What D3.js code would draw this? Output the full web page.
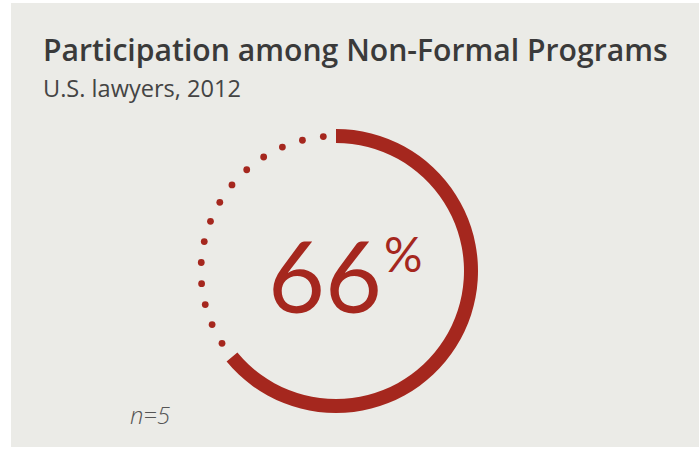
<!DOCTYPE html>
<html><head><meta charset="utf-8">
<script src="https://cdn.jsdelivr.net/npm/d3@7"></script>
<style>body{margin:0;background:#fff;overflow:hidden}</style>
</head><body>
<svg id="c" width="699" height="449"></svg>
<script>
const titleText = "Participation among Non-Formal Programs";
const subtitleText = "U.S. lawyers, 2012";
const shareValues = [66];
const pctDomain = [0, 100];
const dotStep = [2.5];
const noteText = "n=5";

const svg = d3.select("#c");
const red = "#a5271e";

svg.append("rect").attr("x", 11).attr("y", 3).attr("width", 688).attr("height", 444).attr("fill", "#ebebe7");

function fitText(sel, target) {
  const w = sel.node().getComputedTextLength();
  const fs = parseFloat(sel.attr("font-size"));
  sel.attr("font-size", fs * target / w);
}

const t = svg.append("text").attr("x", 43).attr("y", 61)
  .attr("font-family", "'Open Sans', sans-serif").attr("font-weight", 600)
  .attr("font-size", 28).attr("fill", "#3a3a3a").text(titleText);
fitText(t, 625);

const st = svg.append("text").attr("x", 43).attr("y", 97)
  .attr("font-family", "'Open Sans', sans-serif").attr("font-weight", 400)
  .attr("font-size", 22).attr("fill", "#444").text(subtitleText);
fitText(st, 198);

const cx = 336, cy = 271;
const angle = d3.scaleLinear().domain(pctDomain).range([0, 2 * Math.PI]);
const g = svg.append("g").attr("transform", `translate(${cx},${cy})`);

const v = shareValues[0];
const arc = d3.arc().innerRadius(128).outerRadius(142);
g.append("path")
  .attr("d", arc({startAngle: angle(0), endAngle: angle(v - 2)}))
  .attr("fill", red);

const dots = d3.range(v, pctDomain[1] - 1, dotStep[0]);
const rMid = 135;
g.selectAll("circle.dot").data(dots).join("circle")
  .attr("class", "dot")
  .attr("cx", d => rMid * Math.sin(angle(d)))
  .attr("cy", d => -rMid * Math.cos(angle(d)))
  .attr("r", 3.4)
  .attr("fill", red);

const big = svg.append("text").attr("x", 268).attr("y", 313)
  .attr("font-family", "Lato, sans-serif").attr("font-weight", 400)
  .attr("font-size", 106).attr("fill", red).text(v);
fitText(big, 114);
svg.append("text").attr("x", 384).attr("y", 272)
  .attr("font-family", "Lato, sans-serif").attr("font-weight", 400)
  .attr("font-size", 48).attr("fill", red).text("%");

const nt = svg.append("text").attr("x", 130).attr("y", 424)
  .attr("font-family", "'Open Sans', sans-serif").attr("font-style", "italic").attr("font-weight", 300)
  .attr("font-size", 21).attr("fill", "#555").text(noteText);
fitText(nt, 40);
</script>
</body></html>
